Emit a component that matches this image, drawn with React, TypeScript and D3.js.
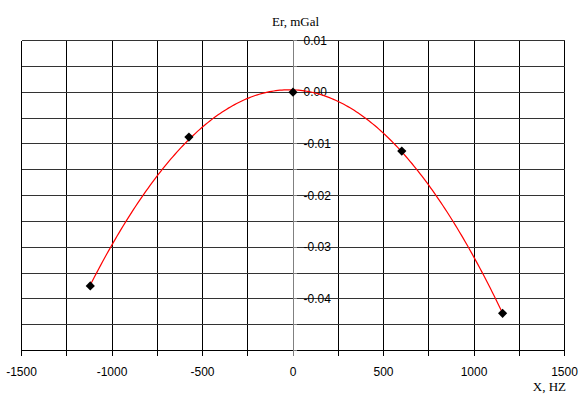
import React from "react";
import * as d3 from "d3";

const xValues = [-1120, -575, 0, 601, 1158];
const erValues = [-0.0375, -0.0087, 0.0, -0.0114, -0.0428];
const xTickLabels = [-1500, -1000, -500, 0, 500, 1000, 1500];
const yTickLabels = [0.01, 0.0, -0.01, -0.02, -0.03, -0.04];
const xGridStep = 250;
const yGridStep = 0.005;

function fitQuadratic(xs: number[], ys: number[]) {
  // least-squares polynomial trendline of order 2 (scaled x for stability)
  const s = 1000;
  const X = xs.map((v) => v / s);
  const S = [0, 0, 0, 0, 0];
  const T = [0, 0, 0];
  X.forEach((x, i) => {
    for (let k = 0; k < 5; k++) S[k] += Math.pow(x, k);
    for (let k = 0; k < 3; k++) T[k] += Math.pow(x, k) * ys[i];
  });
  const M = [
    [S[0], S[1], S[2], T[0]],
    [S[1], S[2], S[3], T[1]],
    [S[2], S[3], S[4], T[2]],
  ];
  for (let c = 0; c < 3; c++) {
    let p = c;
    for (let r = c + 1; r < 3; r++) if (Math.abs(M[r][c]) > Math.abs(M[p][c])) p = r;
    [M[c], M[p]] = [M[p], M[c]];
    for (let r = 0; r < 3; r++) {
      if (r === c) continue;
      const f = M[r][c] / M[c][c];
      for (let k = c; k < 4; k++) M[r][k] -= f * M[c][k];
    }
  }
  const coef = [M[0][3] / M[0][0], M[1][3] / M[1][1], M[2][3] / M[2][2]];
  return (x: number) => {
    const u = x / s;
    return coef[0] + coef[1] * u + coef[2] * u * u;
  };
}

export default function App() {
  const W = 582;
  const H = 395;
  const x = d3.scaleLinear().domain([-1500, 1500]).range([21.5, 564.5]);
  const y = d3.scaleLinear().domain([-0.05, 0.01]).range([350.5, 40.5]);

  const xGrid = d3.range(-1500, 1500 + 1, xGridStep);
  const yGrid = d3.range(0, 13).map((i) => -0.05 + i * yGridStep);

  const f = fitQuadratic(xValues, erValues);
  const x0 = d3.min(xValues) as number;
  const x1 = d3.max(xValues) as number;
  const curvePts = d3.range(0, 201).map((i) => {
    const xv = x0 + ((x1 - x0) * i) / 200;
    return [xv, f(xv)] as [number, number];
  });
  const line = d3
    .line<[number, number]>()
    .x((d) => x(d[0]))
    .y((d) => y(d[1]));

  const sans = "'Liberation Sans', Arial, sans-serif";
  const serif = "'Liberation Serif', 'Times New Roman', serif";

  return (
    <svg
      width={W}
      height={H}
      style={{ position: "absolute", left: 0, top: 0, background: "#fff" }}
    >
      <rect width={W} height={H} fill="#fff" />
      {/* grid */}
      <g stroke="#000" strokeWidth={1} shapeRendering="crispEdges">
        {xGrid.map((v) => (
          <line key={"gx" + v} x1={x(v)} x2={x(v)} y1={y(0.01)} y2={y(-0.05)} stroke={v === 0 ? "#808080" : "#000"} />
        ))}
        {yGrid.map((v, i) => (
          <line key={"gy" + i} x1={x(-1500)} x2={x(1500)} y1={y(v)} y2={y(v)} stroke={i === 0 ? "#000" : "#333"} />
        ))}
      </g>
      {/* x axis ticks */}
      <g stroke="#000" shapeRendering="crispEdges">
        {xGrid.map((v) => (
          <line key={"tx" + v} x1={x(v)} x2={x(v)} y1={y(-0.05)} y2={y(-0.05) + 5} stroke={v === 0 ? "#808080" : "#000"} />
        ))}
      </g>
      {/* y axis ticks */}
      <g stroke="#808080" shapeRendering="crispEdges">
        {yGrid.map((v, i) => (
          <line key={"ty" + i} x1={x(0)} x2={x(0) + 4} y1={y(v)} y2={y(v)} />
        ))}
      </g>
      {/* x tick labels */}
      <g fontFamily={sans} fontSize={12} fill="#000" textAnchor="middle">
        {xTickLabels.map((v) => (
          <text key={"lx" + v} x={x(v)} y={376}>
            {v}
          </text>
        ))}
      </g>
      {/* y tick labels */}
      <g fontFamily={sans} fontSize={12} fill="#000">
        {yTickLabels.map((v) => (
          <text key={"ly" + v} x={x(0) + 10.5} y={y(v)} dy="0.35em">
            {v.toFixed(2)}
          </text>
        ))}
      </g>
      {/* trend curve */}
      <path d={line(curvePts) || ""} fill="none" stroke="#ff0000" strokeWidth={1.2} />
      {/* markers */}
      {xValues.map((xv, i) => {
        const cx = x(xv);
        const cy = y(erValues[i]);
        const r = 4.6;
        return (
          <path
            key={"m" + i}
            d={`M${cx},${cy - r}L${cx + r},${cy}L${cx},${cy + r}L${cx - r},${cy}Z`}
            fill="#000"
          />
        );
      })}
      {/* axis titles */}
      <text x={272} y={26} fontFamily={serif} fontSize={13} fill="#000">
        Er, mGal
      </text>
      <text x={566} y={391} fontFamily={serif} fontSize={13} fill="#000" textAnchor="end">
        X, HZ
      </text>
    </svg>
  );
}
